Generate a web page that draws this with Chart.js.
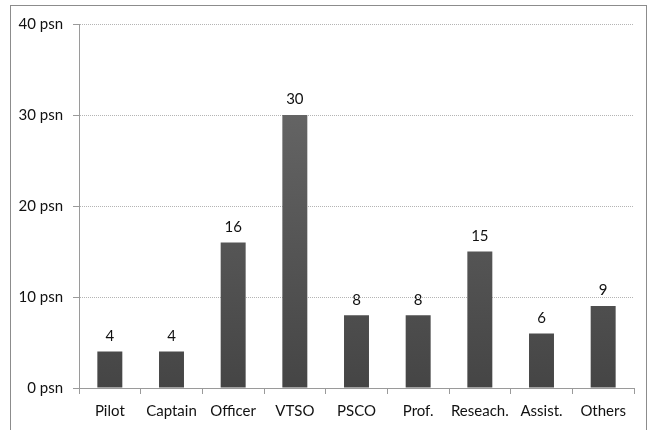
<!DOCTYPE html>
<html>
<head>
<meta charset="utf-8">
<script src="https://cdn.jsdelivr.net/npm/chart.js@4"></script>
<style>
  html, body { margin: 0; padding: 0; background: #fff; }
  #wrap { position: relative; width: 649px; height: 430px; overflow: hidden; }
  #frame { position: absolute; left: 10px; top: 5px; width: 637px; height: 440px; border: 1px solid #8c8c8c; box-sizing: border-box; }
  canvas { position: absolute; left: 0; top: 0; }
</style>
</head>
<body>
<div id="wrap">
  <div id="frame"></div>
  <canvas id="c" width="649" height="430"></canvas>
</div>
<script>
// Respondents by occupation
const categories = ['Pilot', 'Captain', 'Officer', 'VTSO', 'PSCO', 'Prof.', 'Reseach.', 'Assist.', 'Others'];
const persons = [4, 4, 16, 30, 8, 8, 15, 6, 9];
const yTicks = [0, 10, 20, 30, 40];

const FONT = 'Lato, "Open Sans", sans-serif';

// Value labels drawn above each bar
const valueLabels = {
  id: 'valueLabels',
  afterDatasetsDraw(chart) {
    const ctx = chart.ctx;
    const meta = chart.getDatasetMeta(0);
    ctx.save();
    ctx.font = '15px ' + FONT;
    ctx.fillStyle = '#111';
    ctx.textAlign = 'center';
    ctx.textBaseline = 'bottom';
    meta.data.forEach((bar, i) => {
      ctx.fillText(String(persons[i]), bar.x, bar.y - 8);
    });
    ctx.restore();
  }
};

const ctx = document.getElementById('c').getContext('2d');
new Chart(ctx, {
  type: 'bar',
  data: {
    labels: categories,
    datasets: [{
      data: persons,
      backgroundColor(context) {
        const chart = context.chart;
        const area = chart.chartArea;
        if (!area) return '#555';
        const g = chart.ctx.createLinearGradient(0, area.top, 0, area.bottom);
        g.addColorStop(0, '#6e6e6e');
        g.addColorStop(1, '#454545');
        return g;
      },
      borderWidth: 0,
      categoryPercentage: 1,
      barPercentage: 0.405
    }]
  },
  options: {
    responsive: false,
    animation: false,
    devicePixelRatio: 1,
    layout: { padding: { top: 24, right: 15, bottom: 0, left: 0 } },
    plugins: { legend: { display: false }, tooltip: { enabled: false } },
    scales: {
      x: {
        grid: {
          offset: true,
          drawOnChartArea: false,
          drawTicks: true,
          tickLength: 6,
          tickColor: '#9a9a9a'
        },
        border: { color: '#9a9a9a' },
        ticks: {
          color: '#111',
          font: { family: FONT, size: 15 },
          padding: 8,
          maxRotation: 0,
          minRotation: 0,
          autoSkip: false
        },
        afterFit(scale) { scale.height = 42; }
      },
      y: {
        min: 0,
        max: 40,
        afterBuildTicks(scale) { scale.ticks = yTicks.map(v => ({ value: v })); },
        grid: {
          color: '#b4b4b4',
          tickLength: 6,
          tickColor: '#9a9a9a',
          tickBorderDash: []
        },
        border: { color: '#9a9a9a', dash: [1, 1] },
        ticks: {
          color: '#111',
          font: { family: FONT, size: 15 },
          padding: 10,
          callback: v => v + ' psn'
        },
        afterFit(scale) { scale.width = 79; }
      }
    }
  },
  plugins: [valueLabels]
});
</script>
</body>
</html>
